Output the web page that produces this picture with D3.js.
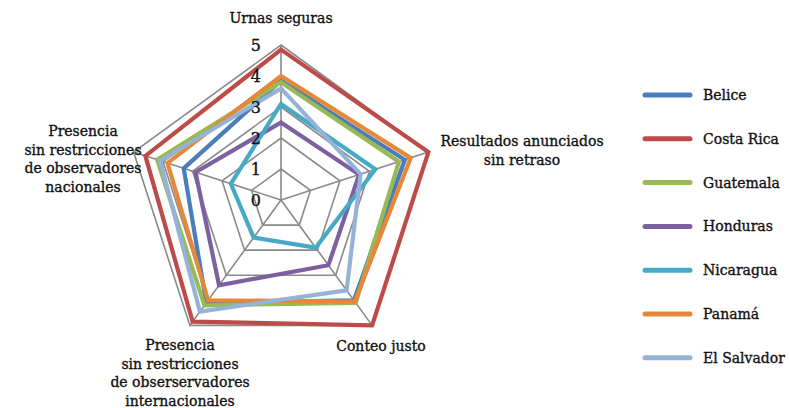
<!DOCTYPE html>
<html>
<head>
<meta charset="utf-8">
<script src="https://cdn.jsdelivr.net/npm/d3@7"></script>
<style>
  html, body { margin: 0; padding: 0; background: #fff; }
  svg text { font-family: "DejaVu Serif", "Liberation Serif", serif; fill: #111; stroke: #111; stroke-width: 0.35; }
</style>
</head>
<body>
<svg id="chart" width="789" height="408"></svg>
<script>
// Axes (categories), each label given as lines
const categories = [
  ["Urnas seguras"],
  ["Resultados anunciados", "sin retraso"],
  ["Conteo justo"],
  ["Presencia", "sin restricciones", "de obserservadores", "internacionales"],
  ["Presencia", "sin restricciones", "de observadores", "nacionales"]
];
const seriesNames = ["Belice", "Costa Rica", "Guatemala", "Honduras", "Nicaragua", "Panamá", "El Salvador"];
const belice     = [3.85, 4.2, 4.0, 4.1, 3.3];
const costaRica  = [4.85, 5.0, 5.0, 4.85, 4.6];
const guatemala  = [3.8, 4.0, 4.1, 4.2, 4.2];
const honduras   = [2.5, 2.65, 2.6, 3.4, 2.9];
const nicaragua  = [3.1, 3.2, 1.9, 1.5, 1.7];
const panama     = [4.0, 4.4, 4.05, 4.0, 3.85];
const elSalvador = [3.6, 2.7, 3.6, 4.45, 4.1];
const seriesValues = [belice, costaRica, guatemala, honduras, nicaragua, panama, elSalvador];
const colors = ["#4A7EBB", "#BE4B48", "#98B954", "#7D60A0", "#46AAC5", "#E5883A", "#95B3D7"];
const tickValues = [0, 1, 2, 3, 4, 5];

const svg = d3.select("#chart");
const cx = 281, cy = 200, R = 155;
const r = d3.scaleLinear().domain([0, 5]).range([0, R]);
const n = categories.length;
const angle = i => -Math.PI / 2 + i * 2 * Math.PI / n;
const pt = (i, v) => [cx + r(v) * Math.cos(angle(i)), cy + r(v) * Math.sin(angle(i))];

const grid = svg.append("g");
// rings
tickValues.filter(t => t > 0).forEach(t => {
  grid.append("polygon")
    .attr("points", d3.range(n).map(i => pt(i, t).join(",")).join(" "))
    .attr("fill", "none").attr("stroke", "#8a8a8a").attr("stroke-width", 1.6);
});
// spokes
d3.range(n).forEach(i => {
  const p = pt(i, 5);
  grid.append("line").attr("x1", cx).attr("y1", cy).attr("x2", p[0]).attr("y2", p[1])
    .attr("stroke", "#8a8a8a").attr("stroke-width", 1.6);
});

// series
const line = d3.line().curve(d3.curveLinearClosed);
seriesValues.forEach((vals, s) => {
  svg.append("path")
    .attr("d", line(vals.map((v, i) => pt(i, v))))
    .attr("fill", "none").attr("stroke", colors[s]).attr("stroke-width", 4.2)
    .attr("stroke-linejoin", "miter");
});

// tick labels
tickValues.forEach(t => {
  svg.append("text").attr("x", 261).attr("y", cy - r(t)).attr("dy", "0.36em")
    .attr("text-anchor", "end").attr("font-size", 16).text(t);
});

// category labels
const labelPos = [
  {x: 281, y: 18}, {x: 522, y: 141}, {x: 381, y: 346}, {x: 180, y: 345}, {x: 83, y: 131}
];
const lh = 18.6;
categories.forEach((lines, i) => {
  const t = svg.append("text").attr("text-anchor", "middle").attr("font-size", 14);
  lines.forEach((l, k) => {
    t.append("tspan").attr("x", labelPos[i].x).attr("y", labelPos[i].y + k * lh)
      .attr("dy", "0.36em").text(l);
  });
});

// legend
const lg = svg.append("g");
seriesNames.forEach((name, s) => {
  const y = 95 + s * 43.8;
  lg.append("line").attr("x1", 645).attr("x2", 690).attr("y1", y).attr("y2", y)
    .attr("stroke", colors[s]).attr("stroke-width", 5).attr("stroke-linecap", "round");
  lg.append("text").attr("x", 703).attr("y", y).attr("dy", "0.36em")
    .attr("font-size", 14).text(name);
});
</script>
</body>
</html>
